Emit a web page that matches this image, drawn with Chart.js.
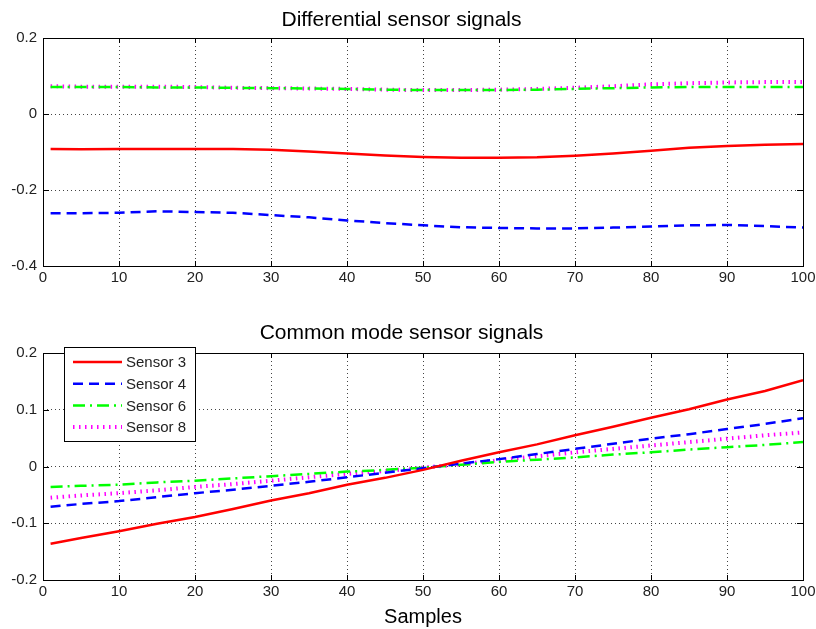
<!DOCTYPE html>
<html>
<head>
<meta charset="utf-8">
<script src="https://cdn.jsdelivr.net/npm/chart.js@4.4.1/dist/chart.umd.min.js"></script>
<style>
  body { margin: 0; background: #fff; }
  .wrap { position: absolute; left: 0; width: 816px; }
  #top { top: 0; height: 300px; }
  #bottom { top: 300px; height: 329px; }
</style>
</head>
<body>
<div class="wrap" id="top"><canvas id="diffChart" width="816" height="300"></canvas></div>
<div class="wrap" id="bottom"><canvas id="commonChart" width="816" height="329"></canvas></div>
<script>
// sample positions the values were read at
const samples = [1, 5, 10, 15, 20, 25, 30, 35, 40, 45, 50, 55, 60, 65, 70, 75, 80, 85, 90, 95, 100];
const xTicks = [0, 10, 20, 30, 40, 50, 60, 70, 80, 90, 100];

// Differential sensor signals
const diff3 = [-0.092, -0.093, -0.092, -0.092, -0.092, -0.092, -0.094, -0.099, -0.104, -0.109, -0.113, -0.115, -0.115, -0.114, -0.110, -0.104, -0.097, -0.089, -0.084, -0.081, -0.079];
const diff4 = [-0.261, -0.261, -0.260, -0.256, -0.258, -0.260, -0.266, -0.272, -0.280, -0.287, -0.293, -0.298, -0.300, -0.301, -0.301, -0.299, -0.296, -0.293, -0.292, -0.295, -0.299];
const diff6 = [0.071, 0.071, 0.071, 0.070, 0.070, 0.069, 0.068, 0.067, 0.066, 0.064, 0.063, 0.063, 0.063, 0.064, 0.066, 0.068, 0.070, 0.071, 0.071, 0.071, 0.071];
const diff8 = [0.073, 0.072, 0.072, 0.072, 0.071, 0.069, 0.068, 0.067, 0.066, 0.064, 0.063, 0.063, 0.064, 0.066, 0.069, 0.073, 0.078, 0.081, 0.083, 0.084, 0.084];

// Common mode sensor signals
const cm3 = [-0.136, -0.126, -0.114, -0.101, -0.089, -0.075, -0.060, -0.047, -0.032, -0.020, -0.006, 0.010, 0.025, 0.039, 0.055, 0.070, 0.086, 0.101, 0.118, 0.133, 0.152];
const cm4 = [-0.071, -0.066, -0.061, -0.054, -0.047, -0.041, -0.034, -0.027, -0.019, -0.011, -0.003, 0.005, 0.013, 0.022, 0.031, 0.040, 0.049, 0.057, 0.066, 0.075, 0.085];
const cm6 = [-0.036, -0.034, -0.032, -0.028, -0.025, -0.021, -0.017, -0.013, -0.009, -0.006, -0.002, 0.003, 0.008, 0.012, 0.016, 0.021, 0.025, 0.030, 0.034, 0.038, 0.043];
const cm8 = [-0.055, -0.051, -0.047, -0.042, -0.036, -0.031, -0.025, -0.019, -0.013, -0.008, -0.002, 0.004, 0.011, 0.018, 0.025, 0.031, 0.037, 0.043, 0.049, 0.055, 0.060];

const seriesNames = ['Sensor 3', 'Sensor 4', 'Sensor 6', 'Sensor 8'];
const diffTicks = [-0.4, -0.2, 0, 0.2];
const cmTicks = [-0.2, -0.1, 0, 0.1, 0.2];

const styles = [
    { color: '#ff0000', dash: [], width: 2.5 },
    { color: '#0000ff', dash: [10, 6], width: 2.5 },
    { color: '#00ff00', dash: [12, 5, 2, 5], width: 2.5 },
    { color: '#ff00ff', dash: [1.5, 4.5], width: 4 }
];

const FONT = "'Liberation Sans', Arial, sans-serif";

// matlab tick labels are narrow; use the narrow face if it is there
const probe = document.createElement('canvas').getContext('2d');
function widthOf(font) { probe.font = font; return probe.measureText('100 Sensor').width; }
const hasNarrow = widthOf("18px 'Liberation Sans Narrow', monospace") !== widthOf('18px monospace');
const TICK_FONT = hasNarrow ? "'Liberation Sans Narrow', 'Liberation Sans', sans-serif" : FONT;
const TICK_SIZE = hasNarrow ? 18 : 15;

function makeDatasets(values) {
    return values.map((vals, i) => ({
        label: seriesNames[i],
        data: samples.map((x, j) => ({ x: x, y: vals[j] })),
        borderColor: styles[i].color,
        borderDash: styles[i].dash,
        borderWidth: styles[i].width,
        pointRadius: 0,
        tension: 0,
        fill: false
    }));
}

// box round the axes, with short inward ticks like matlab
const boxPlugin = {
    id: 'box',
    afterDatasetsDraw(chart) {
        const { ctx, chartArea: a, scales } = chart;
        ctx.save();
        ctx.strokeStyle = '#000';
        ctx.lineWidth = 1;
        ctx.setLineDash([]);
        ctx.beginPath();
        scales.x.ticks.forEach(t => {
            const px = Math.round(scales.x.getPixelForValue(t.value)) + 0.5;
            ctx.moveTo(px, a.bottom); ctx.lineTo(px, a.bottom - 5);
            ctx.moveTo(px, a.top); ctx.lineTo(px, a.top + 5);
        });
        scales.y.ticks.forEach(t => {
            const py = Math.round(scales.y.getPixelForValue(t.value)) + 0.5;
            ctx.moveTo(a.left, py); ctx.lineTo(a.left + 6, py);
            ctx.moveTo(a.right, py); ctx.lineTo(a.right - 6, py);
        });
        ctx.stroke();
        ctx.strokeRect(Math.round(a.left) + 0.5, Math.round(a.top) + 0.5,
            Math.round(a.right - a.left), Math.round(a.bottom - a.top));
        ctx.restore();
    }
};

// legend box drawn inside the plot, top left
const legendPlugin = {
    id: 'insideLegend',
    afterDraw(chart) {
        const { ctx, chartArea: a } = chart;
        const x0 = a.left + 21, y0 = a.top - 6, w = 131, h = 94;
        ctx.save();
        ctx.fillStyle = '#fff';
        ctx.fillRect(x0, y0, w, h);
        ctx.strokeStyle = '#000';
        ctx.lineWidth = 1;
        ctx.setLineDash([]);
        ctx.strokeRect(x0 + 0.5, y0 + 0.5, w, h);
        ctx.font = (hasNarrow ? 18 : 15) + 'px ' + TICK_FONT;
        ctx.textBaseline = 'middle';
        chart.data.datasets.forEach((ds, i) => {
            const y = y0 + 15 + i * 21.7;
            ctx.strokeStyle = ds.borderColor;
            ctx.lineWidth = ds.borderWidth;
            ctx.setLineDash(ds.borderDash);
            ctx.beginPath();
            ctx.moveTo(x0 + 9, y);
            ctx.lineTo(x0 + 58, y);
            ctx.stroke();
            ctx.fillStyle = '#222';
            ctx.fillText(ds.label, x0 + 62, y + 1);
        });
        ctx.restore();
    }
};

function buildOptions(cfg) {
    return {
        responsive: false,
        animation: false,
        layout: { padding: { left: 0, right: 13, top: 0, bottom: 0 } },
        plugins: {
            legend: { display: false },
            tooltip: { enabled: false },
            title: {
                display: true,
                text: cfg.title,
                color: '#000',
                font: { family: FONT, size: 21, weight: 'normal', lineHeight: 1.2 },
                padding: { top: cfg.titleTop, bottom: cfg.titleBottom }
            }
        },
        scales: {
            x: {
                type: 'linear',
                min: 0,
                max: 100,
                afterBuildTicks: scale => { scale.ticks = xTicks.map(v => ({ value: v })); },
                afterFit: scale => {
                    scale.height = cfg.xHeight;
                    scale.paddingLeft = 0;
                    scale.paddingRight = 0;
                },
                ticks: {
                    color: '#222',
                    font: { family: TICK_FONT, size: TICK_SIZE },
                    padding: 3,
                    maxRotation: 0
                },
                grid: { color: '#444', lineWidth: 1, drawTicks: false },
                border: { display: false, dash: [1, 3] },
                title: {
                    display: !!cfg.xTitle,
                    text: cfg.xTitle || '',
                    color: '#000',
                    font: { family: FONT, size: 20, lineHeight: 1.2 },
                    padding: { top: 0, bottom: 0 }
                }
            },
            y: {
                type: 'linear',
                min: cfg.yTicks[0],
                max: cfg.yTicks[cfg.yTicks.length - 1],
                afterBuildTicks: scale => { scale.ticks = cfg.yTicks.map(v => ({ value: v })); },
                afterFit: scale => { scale.width = 43; },
                ticks: {
                    color: '#222',
                    font: { family: TICK_FONT, size: TICK_SIZE },
                    padding: 6,
                    callback: v => String(Math.round(v * 10) / 10)
                },
                grid: { color: '#444', lineWidth: 1, drawTicks: false },
                border: { display: false, dash: [1, 3] }
            }
        }
    };
}

new Chart(document.getElementById('diffChart'), {
    type: 'line',
    data: { datasets: makeDatasets([diff3, diff4, diff6, diff8]) },
    options: buildOptions({ title: 'Differential sensor signals', titleTop: 8, titleBottom: 4.8, yTicks: diffTicks, xHeight: 34 }),
    plugins: [boxPlugin]
});

new Chart(document.getElementById('commonChart'), {
    type: 'line',
    data: { datasets: makeDatasets([cm3, cm4, cm6, cm8]) },
    options: buildOptions({ title: 'Common mode sensor signals', titleTop: 21, titleBottom: 6.8, yTicks: cmTicks, xHeight: 49, xTitle: 'Samples' }),
    plugins: [boxPlugin, legendPlugin]
});
</script>
</body>
</html>
